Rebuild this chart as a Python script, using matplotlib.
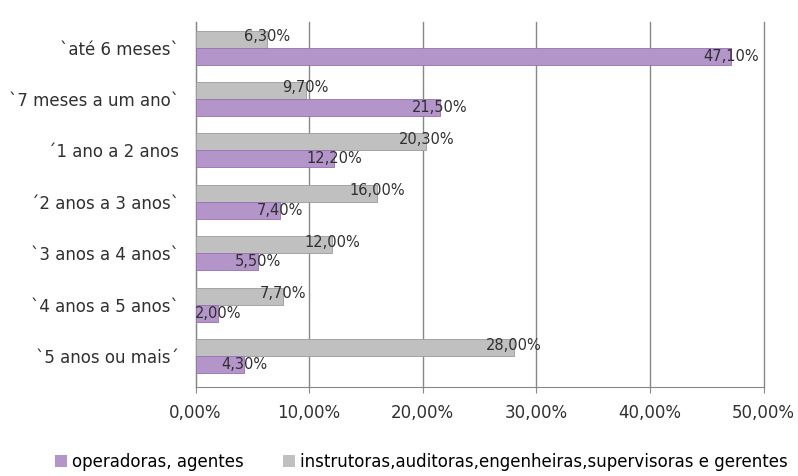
import numpy as np
import matplotlib.pyplot as plt
from matplotlib.patches import Patch

# dados
categorias = ["`até 6 meses`", "`7 meses a um ano`", "´1 ano a 2 anos", "´2 anos a 3 anos`",
              "`3 anos a 4 anos`", "`4 anos a 5 anos`", "`5 anos ou mais´"]
operadoras = [47.1, 21.5, 12.2, 7.4, 5.5, 2.0, 4.3]
instrutoras = [6.3, 9.7, 20.3, 16.0, 12.0, 7.7, 28.0]
nomes_series = ["operadoras, agentes", "instrutoras,auditoras,engenheiras,supervisoras e gerentes"]
ticks_x = [0, 10, 20, 30, 40, 50]

cor_roxo = "#b395c9"
cor_roxo_esc = "#9670b3"
cor_cinza = "#c0c0c0"
cor_cinza_esc = "#9a9a9a"

plt.rcParams['font.family'] = ['DejaVu Sans']

fig = plt.figure(figsize=(7.98, 4.76), dpi=100)
ax = fig.add_axes([0.245, 0.187, 0.712, 0.767])

y = np.arange(len(categorias))
h = 0.33
ax.barh(y - h / 2, instrutoras, height=h, color=cor_cinza, edgecolor=cor_cinza_esc, linewidth=0.6, zorder=3)
ax.barh(y + h / 2, operadoras, height=h, color=cor_roxo, edgecolor=cor_roxo_esc, linewidth=0.6, zorder=3)

def fmt(v):
    return ("%.2f%%" % v).replace(".", ",")

for yi, v in zip(y, instrutoras):
    ax.text(v, yi - h / 2 - 0.05, fmt(v), ha='center', va='center', fontsize=10.5, color='#303030', zorder=5)
for yi, v in zip(y, operadoras):
    ax.text(v, yi + h / 2, fmt(v), ha='center', va='center', fontsize=10.5, color='#303030', zorder=5)

ax.set_xlim(0, 50)
ax.set_ylim(6.6, -0.5)
ax.set_yticks(y)
ax.set_yticklabels(categorias, fontsize=12, color='#303030')
ax.set_xticks(ticks_x)
ax.set_xticklabels([fmt(t) for t in ticks_x], fontsize=12, color='#303030')
ax.tick_params(axis='y', length=0, pad=12)
ax.tick_params(axis='x', length=4, color='#888888', pad=8)

ax.grid(axis='x', color='#888888', linewidth=1, zorder=0)
for gl in ax.get_xgridlines():
    gl.set_clip_on(False)
for s in ['top', 'right']:
    ax.spines[s].set_visible(False)
ax.spines['left'].set_color('#888888')
ax.spines['bottom'].set_color('#888888')

handles = [Patch(facecolor=cor_roxo), Patch(facecolor=cor_cinza)]
fig.legend(handles, nomes_series, loc='center', bbox_to_anchor=(0.528, 0.03), ncol=2,
           frameon=False, fontsize=12, handlelength=0.7, handleheight=0.7,
           handletextpad=0.3, columnspacing=2.4)

fig.savefig("out.png", dpi=100)
